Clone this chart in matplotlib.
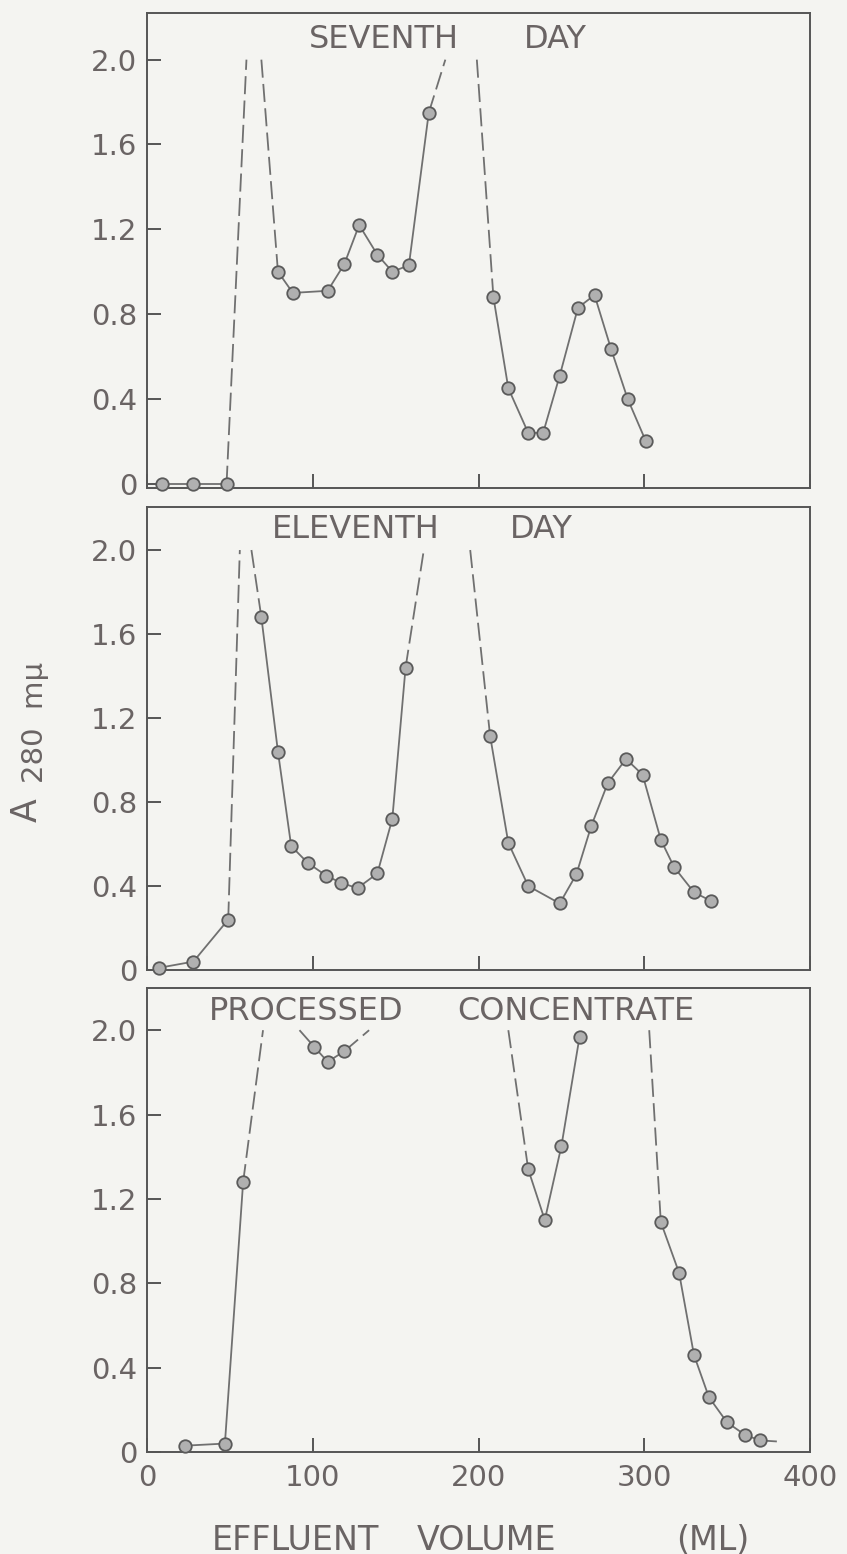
import matplotlib
matplotlib.use('Agg')
import matplotlib.pyplot as plt

# ---------------- data (effluent volume in mL, absorbance A280) ----------------
# Panel 1: SEVENTH DAY
p1_a_x = [9, 28, 48]
p1_a_y = [0.0, 0.0, 0.0]
p1_b_x = [79, 88, 109, 119, 128, 139, 148, 158, 170]
p1_b_y = [1.00, 0.90, 0.91, 1.035, 1.22, 1.08, 1.00, 1.03, 1.75]
p1_c_x = [209, 218, 230, 239, 249, 260, 270, 280, 290, 301]
p1_c_y = [0.88, 0.45, 0.24, 0.24, 0.51, 0.83, 0.89, 0.635, 0.40, 0.20]
p1_dash_x = [[48, 60], [69, 79], [170, 180], [199, 209]]
p1_dash_y = [[0.0, 2.0], [2.0, 1.00], [1.75, 2.0], [2.0, 0.88]]

# Panel 2: ELEVENTH DAY
p2_a_x = [7, 28, 49]
p2_a_y = [0.01, 0.04, 0.24]
p2_b_x = [69, 79, 87, 97, 108, 117, 127, 139, 148, 156]
p2_b_y = [1.68, 1.04, 0.59, 0.51, 0.45, 0.415, 0.39, 0.46, 0.72, 1.44]
p2_c_x = [207, 218, 230, 249, 259, 268, 278, 289, 299, 310, 318, 330, 340]
p2_c_y = [1.115, 0.605, 0.40, 0.317, 0.455, 0.685, 0.89, 1.005, 0.93, 0.62, 0.49, 0.37, 0.33]
p2_dash_x = [[49, 56], [63, 69], [156, 167], [195, 207]]
p2_dash_y = [[0.24, 2.0], [2.0, 1.68], [1.44, 2.0], [2.0, 1.115]]

# Panel 3: PROCESSED CONCENTRATE
p3_a_x = [23, 47, 58]
p3_a_y = [0.03, 0.04, 1.28]
p3_b_x = [101, 109, 119]
p3_b_y = [1.92, 1.85, 1.90]
p3_c_x = [230, 240, 250, 261]
p3_c_y = [1.34, 1.10, 1.45, 1.97]
p3_d_x = [310, 321, 330, 339, 350, 361, 370]
p3_d_y = [1.09, 0.85, 0.46, 0.26, 0.14, 0.08, 0.055]
p3_dash_x = [[58, 70], [92, 101], [119, 134], [218, 230], [303, 310], [370, 380]]
p3_dash_y = [[1.28, 2.0], [2.0, 1.92], [1.90, 2.0], [2.0, 1.34], [2.0, 1.09], [0.055, 0.05]]

x_ticks = [0, 100, 200, 300, 400]
x_tick_labels = ['0', '100', '200', '300', '400']
y_ticks = [0, 0.4, 0.8, 1.2, 1.6, 2.0]
y_tick_labels = ['0', '0.4', '0.8', '1.2', '1.6', '2.0']

titles = [('SEVENTH', 'DAY'), ('ELEVENTH', 'DAY'), ('PROCESSED', 'CONCENTRATE')]

# ---------------- style ----------------
W, H = 847, 1554
BG = '#f4f4f1'
LINE = '#707070'
FACE = '#b0b0b0'
EDGE = '#5a5a5a'
TEXT = '#6a6464'
SPINE = '#555555'
FONT = 'DejaVu Sans'

plt.rcParams['font.family'] = [FONT]

fig = plt.figure(figsize=(W / 100, H / 100), dpi=100, facecolor=BG)


def px(x, y):
    return x / W, 1 - y / H


def rect(left, top, right, bottom):
    return [left / W, 1 - bottom / H, (right - left) / W, (bottom - top) / H]


def panel(r, ylim, series, dash_x, dash_y, show_x):
    ax = fig.add_axes(r, facecolor=BG)
    for xs, ys in series:
        ax.plot(xs, ys, '-', color=LINE, lw=1.3, marker='o', ms=9,
                mfc=FACE, mec=EDGE, mew=1.3, zorder=3, clip_on=False)
    for xs, ys in zip(dash_x, dash_y):
        ax.plot(xs, ys, color=LINE, lw=1.3, dashes=(10, 3.5), zorder=2)
    ax.set_xlim(0, 400)
    ax.set_ylim(*ylim)
    ax.set_xticks(x_ticks)
    ax.set_yticks(y_ticks)
    ax.set_yticklabels(y_tick_labels)
    if show_x:
        ax.set_xticklabels(x_tick_labels)
    else:
        ax.set_xticklabels([])
    for s in ax.spines.values():
        s.set_color(SPINE)
        s.set_linewidth(1.4)
    ax.tick_params(axis='both', direction='in', length=10, width=1.4,
                   color=SPINE, labelsize=21, labelcolor=TEXT)
    ax.tick_params(axis='y', pad=7)
    ax.tick_params(axis='x', pad=9)
    return ax


panel(rect(147, 13, 810, 488), (-0.02, 2.22),
      [(p1_a_x, p1_a_y), (p1_b_x, p1_b_y), (p1_c_x, p1_c_y)],
      p1_dash_x, p1_dash_y, False)
panel(rect(147, 507, 810, 970), (0.0, 2.205),
      [(p2_a_x, p2_a_y), (p2_b_x, p2_b_y), (p2_c_x, p2_c_y)],
      p2_dash_x, p2_dash_y, False)
panel(rect(147, 988, 810, 1452), (0.0, 2.2),
      [(p3_a_x, p3_a_y), (p3_b_x, p3_b_y), (p3_c_x, p3_c_y), (p3_d_x, p3_d_y)],
      p3_dash_x, p3_dash_y, True)

# panel titles
title_pos = [((309, 40), (524, 40)), ((272, 530), (510, 530)), ((209, 1011), (457, 1011))]
for (w1, w2), (q1, q2) in zip(titles, title_pos):
    fig.text(*px(*q1), w1, fontsize=23, color=TEXT, ha='left', va='center')
    fig.text(*px(*q2), w2, fontsize=23, color=TEXT, ha='left', va='center')

# x axis label
for word, xx in [('EFFLUENT', 212), ('VOLUME', 417), ('(ML)', 676)]:
    fig.text(*px(xx, 1540), word, fontsize=24, color=TEXT, ha='left', va='center')

# y axis label
fig.text(*px(27, 810), 'A', fontsize=25, color=TEXT, rotation=90,
         ha='center', va='center')
fig.text(*px(35, 722), '280  mμ', fontsize=21, color=TEXT, rotation=90,
         ha='center', va='center')

fig.savefig('out.png', dpi=100, facecolor=BG)
